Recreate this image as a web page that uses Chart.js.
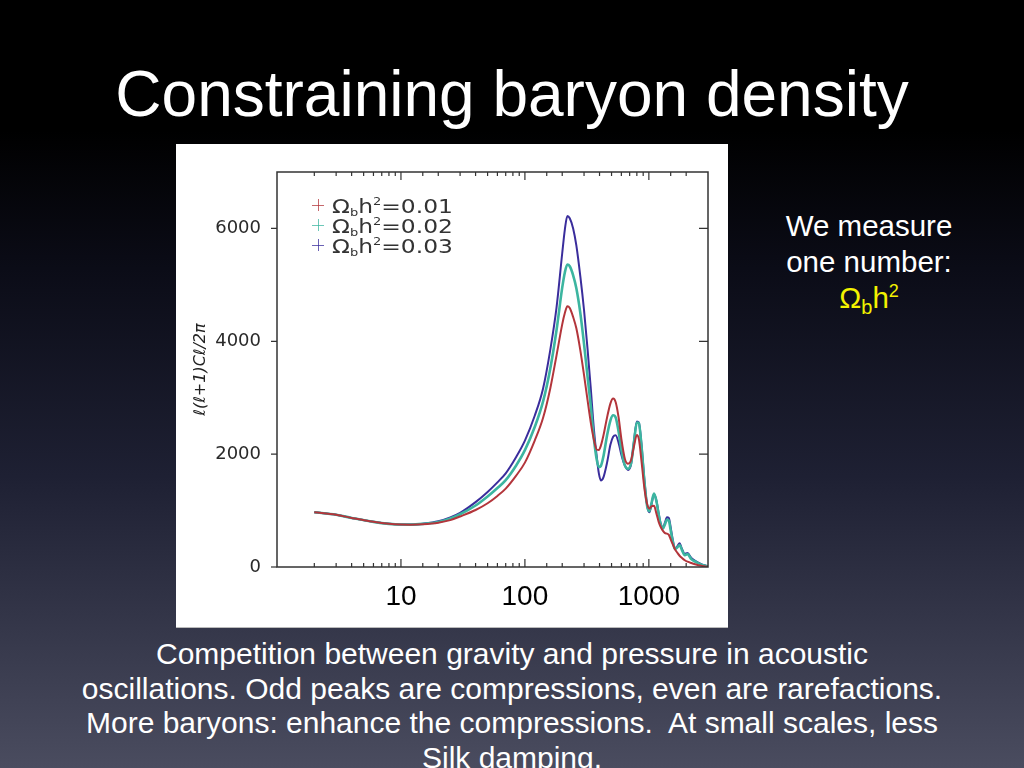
<!DOCTYPE html>
<html><head><meta charset="utf-8">
<script src="https://cdn.jsdelivr.net/npm/chart.js@4"></script>
<style>
html,body{margin:0;padding:0;}
body{width:1024px;height:768px;overflow:hidden;position:relative;
 background:linear-gradient(to bottom,#000 0%,#000 17%,#0b0c17 35%,#1e2033 62%,#4a4c5f 100%);
 font-family:"Liberation Sans",Arial,Helvetica,sans-serif;color:#fff;}
#title{position:absolute;left:0;top:62px;width:1024px;text-align:center;font-size:64px;line-height:64px;}
#box{position:absolute;left:176px;top:144px;width:552px;height:483px;background:#fff;border-bottom:1px solid #bbb;}
#side{position:absolute;left:769px;top:208px;width:200px;text-align:center;font-size:29.5px;line-height:36px;}
.yel{color:#f3f200;}
.yel sub{font-size:20px;vertical-align:-6px;line-height:0;}
.yel sup{font-size:18px;vertical-align:11px;line-height:0;}
#cap{position:absolute;left:0;top:637px;width:1024px;text-align:center;font-size:30px;line-height:34.5px;white-space:nowrap;}
</style></head>
<body>
<div id="title">Constraining baryon density</div>
<div id="box"><canvas id="c" width="552" height="483"></canvas></div>
<div id="side">We measure<br>one number:<br><span class="yel">Ω<sub>b</sub>h<sup>2</sup></span></div>
<div id="cap">Competition between gravity and pressure in acoustic<br>oscillations. Odd peaks are compressions, even are rarefactions.<br>More baryons: enhance the compressions.&nbsp; At small scales, less<br>Silk damping.</div>
<script>
const ells = [2,3,4,6,8,10,12,15,20,25,30,40,50,60,70,85,100,120,140,160,180,200,210,220,230,245,260,280,300,320,340,360,380,395,410,430,460,490,515,540,570,600,640,680,720,760,800,830,870,920,970,1010,1050,1100,1150,1200,1250,1300,1350,1400,1450,1500,1560,1620,1700,1770,1850,1950,2050,2200,2400,2600,2800,3000];
const omega001 = [970,925,870,800,765,752,750,758,785,830,895,1010,1130,1260,1390,1620,1850,2240,2640,3160,3750,4300,4500,4620,4590,4430,4230,3840,3400,2960,2560,2260,2080,2075,2150,2330,2650,2900,2985,2920,2650,2270,1920,1830,1900,2150,2340,2270,1900,1400,1110,1035,1075,1085,950,800,705,640,600,590,570,490,400,320,250,200,160,120,95,70,45,25,12,4];
const omega002 = [970,925,870,800,765,752,751,764,798,858,935,1090,1250,1400,1540,1800,2070,2480,2930,3510,4200,4950,5220,5360,5330,5170,4940,4500,3950,3380,2850,2280,1900,1770,1790,1960,2330,2600,2690,2650,2400,2080,1800,1740,1850,2230,2560,2550,2170,1520,1070,990,1130,1300,1170,930,740,680,760,840,820,650,450,320,350,390,300,210,230,140,90,50,25,8];
const omega003 = [970,925,870,800,765,752,752,768,810,880,960,1150,1330,1500,1660,1950,2240,2680,3160,3840,4600,5560,5980,6220,6180,6000,5700,5150,4550,3870,3160,2450,1950,1660,1535,1590,1850,2170,2310,2335,2200,1990,1800,1720,1830,2250,2580,2560,2200,1550,1080,970,1110,1290,1180,950,760,700,790,880,870,700,480,330,370,420,320,230,250,160,100,60,30,10];
const seriesValues = ['0.01','0.02','0.03'];
const seriesColors = ['#b3353b','#3cb5a0','#3a2d9c'];
const seriesWidths = [2,2.6,2];
const yTickValues = [0,2000,4000,6000];
const xLabelValues = [10,100,1000];

const pts = arr => ells.map((l,i)=>({x:l,y:arr[i]}));
const allSeries = [omega001,omega002,omega003];

const framePlugin = {
  id:'frame',
  afterDatasetsDraw(chart){
    const ctx=chart.ctx, ca=chart.chartArea, xs=chart.scales.x, ys=chart.scales.y;
    ctx.save();
    ctx.strokeStyle='#333'; ctx.lineWidth=1.5;
    ctx.strokeRect(ca.left,ca.top,ca.right-ca.left,ca.bottom-ca.top);
    ctx.lineWidth=1.2;
    xs.ticks.forEach(t=>{
      const v=t.value, px=xs.getPixelForValue(v);
      if(px<=ca.left+1||px>=ca.right-1) return;
      const lg=Math.log10(v), major=Math.abs(lg-Math.round(lg))<1e-6;
      const len=major?8:4;
      ctx.beginPath();
      ctx.moveTo(px,ca.bottom); ctx.lineTo(px,ca.bottom-len);
      ctx.moveTo(px,ca.top); ctx.lineTo(px,ca.top+len);
      ctx.stroke();
    });
    ys.ticks.forEach(t=>{
      const py=ys.getPixelForValue(t.value);
      ctx.beginPath();
      ctx.moveTo(ca.left-6,py); ctx.lineTo(ca.left,py);
      if(t.value>0){ctx.moveTo(ca.right-9,py); ctx.lineTo(ca.right,py);}
      ctx.stroke();
    });
    ctx.restore();
  },
  afterDraw(chart){
    const ctx=chart.ctx, ca=chart.chartArea;
    chart.data.datasets.forEach((ds,i)=>{
      const cy=ca.top+33+i*20;
      const px=ca.left+41;
      ctx.save();
      ctx.strokeStyle=ds.borderColor; ctx.globalAlpha=0.75; ctx.lineWidth=1;
      ctx.beginPath();
      ctx.moveTo(px-6,cy+0.5); ctx.lineTo(px+6,cy+0.5);
      ctx.moveTo(px+0.5,cy-6); ctx.lineTo(px+0.5,cy+6);
      ctx.stroke();
      ctx.restore();
      ctx.save();
      ctx.translate(ca.left+55,cy+8);
      ctx.scale(1.3,1.05);
      ctx.fillStyle='#333'; ctx.textBaseline='alphabetic'; ctx.textAlign='left';
      let x=0;
      const big='18px "DejaVu Sans"', small='10px "DejaVu Sans"';
      const part=(txt,font,dy)=>{ctx.font=font; ctx.fillText(txt,x,dy); x+=ctx.measureText(txt).width;};
      part('Ω',big,0); part('b',small,3); part('h',big,0); part('2',small,-8); part('='+seriesValues[i],big,0);
      ctx.restore();
    });
  }
};

new Chart(document.getElementById('c'),{
  type:'line',
  data:{datasets:allSeries.map((arr,i)=>({
    label:'Ωbh²='+seriesValues[i],
    data:pts(arr),
    borderColor:seriesColors[i],
    borderWidth:seriesWidths[i],
    pointRadius:0,
    fill:false,
    cubicInterpolationMode:'monotone'
  }))},
  options:{
    responsive:false,
    animation:false,
    devicePixelRatio:1,
    layout:{padding:{left:0,right:20,top:28,bottom:0}},
    plugins:{legend:{display:false},tooltip:{enabled:false}},
    scales:{
      x:{
        type:'logarithmic',min:1,max:3000,
        grid:{display:false},border:{display:false},
        ticks:{autoSkip:false,maxRotation:0,minRotation:0,padding:5,color:'#000',
          font:{family:'"Liberation Sans", Arial, sans-serif',size:28},
          callback:(v)=>xLabelValues.some(L=>Math.abs(L-v)<1e-6)?String(v):''},
        afterFit:(s)=>{s.height=60;}
      },
      y:{
        min:0,max:7000,
        grid:{display:false},border:{display:false},
        afterBuildTicks:(s)=>{s.ticks=yTickValues.map(v=>({value:v}));},
        ticks:{padding:8,color:'#2a2a2a',
          font:{family:'"DejaVu Sans", sans-serif',size:18},
          callback:(v)=>String(v)},
        title:{display:true,text:'ℓ(ℓ+1)Cℓ/2π',color:'#222',
          font:{family:'"DejaVu Sans", sans-serif',size:16,style:'italic'},padding:{top:15,bottom:0}},
        afterFit:(s)=>{s.width=101;}
      }
    }
  },
  plugins:[framePlugin]
});
</script>
</body></html>
